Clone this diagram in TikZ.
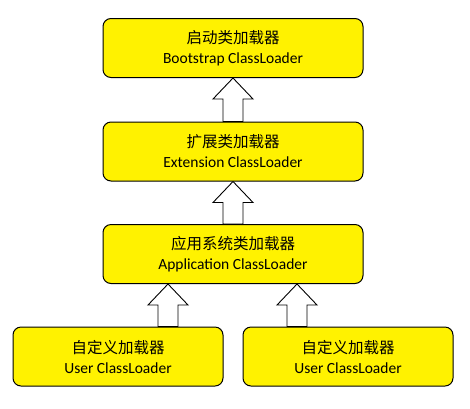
\documentclass[tikz,border=0pt]{standalone}
\usepackage{fontspec}
\setmainfont{Carlito}
\newfontfamily\cjk{Noto Sans CJK SC}
\usepackage{tikz}
\usetikzlibrary{calc,backgrounds}

% hollow block arrow from a lower point (#1) up to a box edge (#2)
\newcommand{\hollowarrow}[2]{%
  \draw[hollow] let \p1=(#1), \p2=(#2) in
    (\x1-10pt,\y1) -- (\x1-10pt,\y2-21pt) -- (\x1-20pt,\y2-21pt) -- (\x1,\y2)
    -- (\x1+20pt,\y2-21pt) -- (\x1+10pt,\y2-21pt) -- (\x1+10pt,\y1) -- cycle;}
\newcommand{\zh}[1]{{\cjk\fontsize{15.5pt}{20pt}\selectfont #1}}

\begin{document}
\begin{tikzpicture}[
  x=1pt, y=-1pt,
  loader/.style={draw, line width=1pt, rounded corners=8pt, fill=yellow,
                 minimum height=59pt, align=center, inner sep=2pt,
                 font=\fontsize{15.5pt}{20pt}\selectfont},
  wide/.style={minimum width=260pt}, narrow/.style={minimum width=210pt},
  hollow/.style={draw, fill=white, line width=0.9pt}
]
  \useasboundingbox (0,0) rectangle (470,408);
  % parent chain
  \node[loader, wide] (boot) at (233, 48) {\zh{启动类加载器}\\Bootstrap ClassLoader};
  \node[loader, wide] (ext) at (233, 151.5) {\zh{扩展类加载器}\\Extension ClassLoader};
  \node[loader, wide] (app) at (233, 254) {\zh{应用系统类加载器}\\Application ClassLoader};
  % user loaders
  \node[loader, narrow] (user1) at (118, 356.5) {\zh{自定义加载器}\\User ClassLoader};
  \node[loader, narrow] (user2) at (348, 356.5) {\zh{自定义加载器}\\User ClassLoader};
  % delegation arrows
  \begin{pgfonlayer}{background}
    \hollowarrow{ext.north}{boot.south}
    \hollowarrow{app.north}{ext.south}
    \hollowarrow{$(user1.north)+(50,0)$}{app.south}
    \hollowarrow{$(user2.north)+(-51,0)$}{app.south}
  \end{pgfonlayer}
\end{tikzpicture}
\end{document}
